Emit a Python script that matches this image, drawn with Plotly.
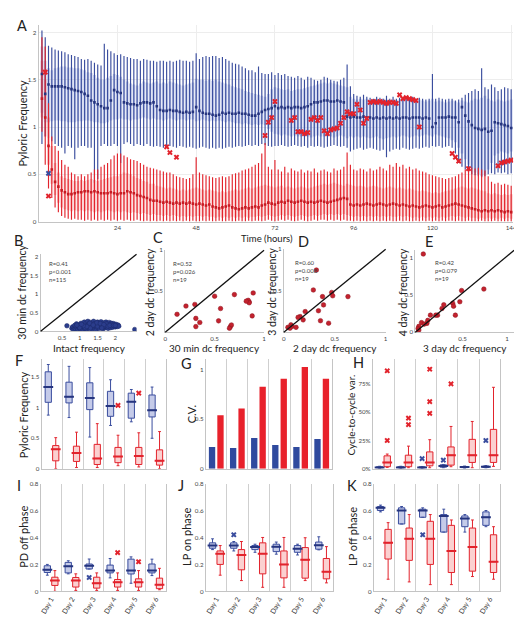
import plotly.graph_objects as go

W, H = 522, 617

# ---------------- Panel A data (hours 1..144) ----------------
hours = list(range(1, 145))

blue_hi = [
 2.02,1.95,1.86,1.84,1.82,1.81,1.80,1.79,1.77,1.76,1.75,1.74,
 1.72,1.71,1.72,1.70,1.68,1.66,1.65,1.88,1.82,1.80,1.78,1.76,
 1.77,1.75,1.74,1.73,1.72,1.72,1.70,1.72,1.71,1.70,1.70,1.69,
 1.70,1.70,1.69,1.70,1.69,1.70,1.71,1.70,1.70,1.69,1.70,1.78,
 1.72,1.74,1.75,1.74,1.75,1.75,1.73,1.74,1.72,1.70,1.68,1.67,
 1.66,1.64,1.62,1.60,1.60,1.58,1.64,1.57,1.56,1.56,1.58,1.55,
 1.57,1.55,1.56,1.54,1.53,1.52,1.54,1.52,1.50,1.53,1.52,1.50,
 1.49,1.50,1.53,1.52,1.50,1.49,1.48,1.50,1.52,1.66,1.43,1.35,
 1.33,1.32,1.34,1.32,1.31,1.30,1.32,1.31,1.30,1.33,1.30,1.32,
 1.30,1.31,1.30,1.31,1.30,1.32,1.30,1.31,1.30,1.29,1.30,1.56,
 1.30,1.31,1.30,1.29,1.30,1.30,1.28,1.29,1.31,1.34,1.36,1.38,
 1.40,1.38,1.62,1.42,1.40,1.45,1.42,1.38,1.40,1.42,1.41,1.40]
blue_q3 = [
 1.85,1.70,1.62,1.60,1.62,1.63,1.64,1.64,1.63,1.63,1.62,1.62,
 1.61,1.60,1.58,1.57,1.55,1.52,1.50,1.50,1.52,1.54,1.56,1.55,
 1.53,1.50,1.48,1.46,1.45,1.44,1.46,1.48,1.47,1.46,1.47,1.48,
 1.46,1.47,1.46,1.48,1.47,1.46,1.45,1.44,1.45,1.46,1.47,1.51,
 1.50,1.50,1.49,1.50,1.49,1.50,1.48,1.47,1.46,1.45,1.43,1.42,
 1.41,1.40,1.38,1.37,1.36,1.35,1.34,1.33,1.32,1.35,1.40,1.42,
 1.41,1.40,1.39,1.40,1.38,1.39,1.40,1.40,1.41,1.42,1.43,1.44,
 1.45,1.46,1.47,1.46,1.47,1.46,1.45,1.44,1.43,1.42,1.32,1.30,
 1.29,1.30,1.29,1.30,1.28,1.29,1.30,1.29,1.30,1.29,1.28,1.29,
 1.28,1.29,1.30,1.29,1.28,1.29,1.28,1.29,1.28,1.27,1.28,1.30,
 1.27,1.28,1.27,1.26,1.27,1.28,1.27,1.26,1.28,1.27,1.26,1.28,
 1.30,1.29,1.31,1.33,1.30,1.28,1.27,1.29,1.28,1.27,1.28,1.29]
blue_med = [
 1.56,1.35,1.45,1.43,1.43,1.43,1.43,1.42,1.41,1.40,1.39,1.38,
 1.37,1.35,1.33,1.28,1.26,1.24,1.22,1.20,1.20,1.28,1.39,1.37,
 1.36,1.26,1.25,1.24,1.24,1.23,1.25,1.26,1.26,1.25,1.26,1.22,
 1.18,1.17,1.17,1.18,1.17,1.17,1.16,1.15,1.16,1.15,1.16,1.21,
 1.17,1.15,1.14,1.14,1.13,1.12,1.13,1.15,1.14,1.15,1.14,1.14,
 1.15,1.14,1.14,1.13,1.12,1.12,1.14,1.16,1.18,1.19,1.20,1.22,
 1.20,1.21,1.20,1.21,1.20,1.21,1.21,1.20,1.21,1.22,1.24,1.26,
 1.26,1.27,1.28,1.28,1.27,1.27,1.28,1.27,1.26,1.11,1.10,1.11,
 1.10,1.10,1.11,1.10,1.10,1.09,1.10,1.09,1.10,1.09,1.10,1.09,
 1.10,1.09,1.10,1.10,1.09,1.10,1.10,1.10,1.09,1.10,1.09,1.00,
 1.04,1.10,1.10,1.10,1.11,1.10,1.10,1.05,1.21,1.12,1.06,1.02,
 0.99,0.98,0.97,0.98,0.95,0.96,1.05,1.04,1.03,1.02,1.01,0.99]
blue_q1 = [
 1.15,1.05,1.05,1.06,1.07,1.07,1.06,1.06,1.05,1.05,1.05,1.06,
 1.06,1.07,1.07,1.06,1.05,1.05,1.04,1.04,1.05,1.07,1.08,1.08,
 1.09,1.08,1.08,1.07,1.08,1.08,1.09,1.10,1.09,1.08,1.09,1.08,
 1.08,1.07,1.08,1.09,1.08,1.07,1.08,1.08,1.07,1.08,1.08,1.06,
 1.07,1.08,1.07,1.06,1.07,1.06,1.07,1.06,1.05,1.06,1.05,1.04,
 1.04,1.03,1.04,1.03,1.02,1.03,1.02,1.03,1.02,0.98,0.95,0.93,
 0.92,0.91,0.92,0.91,0.90,0.91,0.90,0.90,0.91,0.90,0.89,0.90,
 0.91,0.90,0.90,0.91,0.90,0.89,0.90,0.91,0.90,0.88,0.90,0.89,
 0.90,0.89,0.90,0.89,0.88,0.89,0.90,0.88,0.87,0.88,0.89,0.90,
 0.89,0.90,0.91,0.90,0.89,0.90,0.91,0.90,0.91,0.92,0.91,0.90,
 0.92,0.91,0.90,0.89,0.88,0.86,0.84,0.78,0.72,0.66,0.60,0.56,
 0.52,0.50,0.48,0.50,0.55,0.62,0.70,0.72,0.74,0.73,0.72,0.74]
blue_lo = [
 0.82,0.90,0.88,0.85,0.82,0.80,0.78,0.72,0.80,0.78,0.66,0.78,
 0.80,0.80,0.78,0.78,0.41,0.45,0.80,0.82,0.80,0.80,0.82,0.80,
 0.62,0.82,0.84,0.82,0.80,0.82,0.81,0.80,0.82,0.80,0.79,0.80,
 0.79,0.78,0.79,0.80,0.79,0.78,0.80,0.79,0.78,0.79,0.78,0.77,
 0.78,0.79,0.78,0.77,0.78,0.77,0.78,0.77,0.78,0.79,0.78,0.79,
 0.80,0.79,0.80,0.81,0.80,0.81,0.80,0.82,0.81,0.80,0.79,0.80,
 0.80,0.81,0.80,0.79,0.80,0.81,0.80,0.79,0.80,0.78,0.80,0.79,
 0.80,0.79,0.78,0.79,0.80,0.81,0.80,0.79,0.80,0.78,0.74,0.76,
 0.77,0.78,0.76,0.77,0.78,0.77,0.76,0.75,0.76,0.68,0.74,0.76,
 0.77,0.76,0.78,0.77,0.76,0.77,0.78,0.77,0.78,0.79,0.78,0.80,
 0.79,0.80,0.78,0.79,0.80,0.78,0.72,0.62,0.58,0.55,0.52,0.50,
 0.49,0.48,0.47,0.48,0.50,0.51,0.50,0.52,0.51,0.52,0.50,0.51]

red_hi = [
 1.95,1.85,1.25,0.90,0.80,0.75,0.65,0.60,0.58,0.52,0.50,0.48,
 0.50,0.48,0.50,0.52,0.55,0.55,0.58,0.60,0.62,0.66,0.70,0.72,
 0.72,0.70,0.68,0.66,0.65,0.64,0.62,0.60,0.58,0.57,0.56,0.55,
 0.54,0.53,0.52,0.52,0.50,0.48,0.47,0.46,0.45,0.46,0.50,0.68,
 0.52,0.50,0.49,0.48,0.47,0.46,0.47,0.48,0.47,0.48,0.50,0.51,
 0.52,0.54,0.55,0.56,0.58,0.60,0.62,0.72,0.83,0.58,0.55,0.65,
 0.55,0.53,0.58,0.52,0.56,0.54,0.53,0.55,0.52,0.54,0.53,0.56,
 0.52,0.54,0.55,0.53,0.52,0.56,0.54,0.55,0.58,0.73,0.60,0.55,
 0.54,0.56,0.55,0.53,0.56,0.54,0.55,0.58,0.56,0.54,0.60,0.58,
 0.62,0.58,0.60,0.56,0.58,0.55,0.56,0.54,0.53,0.52,0.50,0.49,
 0.48,0.47,0.46,0.45,0.46,0.47,0.48,0.50,0.52,0.55,0.56,0.57,
 0.56,0.57,0.55,0.54,0.48,0.42,0.40,0.41,0.39,0.40,0.39,0.38]
red_q3 = [
 1.70,1.50,1.10,0.80,0.62,0.52,0.48,0.46,0.45,0.44,0.43,0.43,
 0.44,0.43,0.44,0.45,0.44,0.43,0.44,0.45,0.46,0.47,0.48,0.48,
 0.50,0.52,0.51,0.50,0.48,0.46,0.45,0.43,0.42,0.40,0.40,0.38,
 0.37,0.36,0.35,0.36,0.35,0.34,0.33,0.34,0.33,0.34,0.35,0.36,
 0.35,0.34,0.33,0.34,0.33,0.32,0.31,0.32,0.31,0.32,0.33,0.34,
 0.33,0.34,0.35,0.36,0.35,0.36,0.37,0.38,0.39,0.38,0.37,0.36,
 0.37,0.38,0.36,0.37,0.36,0.35,0.36,0.37,0.36,0.35,0.36,0.37,
 0.38,0.39,0.40,0.39,0.40,0.41,0.40,0.39,0.38,0.40,0.39,0.38,
 0.37,0.38,0.37,0.36,0.37,0.38,0.37,0.36,0.35,0.36,0.37,0.36,
 0.35,0.36,0.35,0.34,0.35,0.34,0.33,0.32,0.33,0.32,0.31,0.30,
 0.31,0.30,0.31,0.32,0.33,0.34,0.35,0.36,0.37,0.36,0.35,0.36,
 0.35,0.34,0.33,0.32,0.30,0.29,0.30,0.29,0.28,0.29,0.28,0.29]
red_med = [
 1.30,1.10,0.80,0.55,0.42,0.37,0.33,0.31,0.29,0.29,0.30,0.31,
 0.31,0.32,0.32,0.31,0.32,0.31,0.30,0.30,0.30,0.31,0.30,0.29,
 0.30,0.30,0.32,0.31,0.30,0.28,0.27,0.26,0.25,0.23,0.22,0.22,
 0.21,0.20,0.21,0.20,0.19,0.20,0.19,0.20,0.19,0.20,0.19,0.18,
 0.19,0.18,0.17,0.18,0.16,0.15,0.14,0.15,0.16,0.17,0.15,0.14,
 0.13,0.14,0.15,0.14,0.15,0.16,0.15,0.17,0.18,0.20,0.19,0.18,
 0.20,0.21,0.20,0.22,0.21,0.20,0.21,0.22,0.21,0.20,0.21,0.20,
 0.21,0.22,0.21,0.20,0.21,0.22,0.23,0.24,0.25,0.24,0.18,0.17,
 0.18,0.17,0.18,0.19,0.18,0.17,0.18,0.19,0.18,0.17,0.18,0.19,
 0.18,0.17,0.18,0.17,0.16,0.17,0.16,0.15,0.16,0.17,0.16,0.15,
 0.16,0.17,0.15,0.16,0.17,0.18,0.19,0.18,0.17,0.16,0.15,0.14,
 0.13,0.12,0.11,0.12,0.11,0.12,0.11,0.12,0.11,0.10,0.11,0.10]
red_q1 = [
 1.10,0.90,0.60,0.40,0.28,0.20,0.15,0.13,0.12,0.11,0.12,0.11,
 0.12,0.11,0.12,0.11,0.10,0.11,0.10,0.11,0.12,0.11,0.10,0.11,
 0.10,0.11,0.10,0.09,0.10,0.09,0.08,0.09,0.08,0.07,0.08,0.07,
 0.07,0.06,0.07,0.06,0.07,0.06,0.05,0.06,0.05,0.06,0.05,0.06,
 0.06,0.05,0.06,0.05,0.05,0.04,0.05,0.04,0.05,0.04,0.05,0.04,
 0.05,0.04,0.05,0.04,0.05,0.05,0.06,0.05,0.06,0.07,0.06,0.05,
 0.06,0.07,0.06,0.07,0.06,0.05,0.06,0.07,0.06,0.05,0.06,0.07,
 0.06,0.07,0.08,0.07,0.08,0.07,0.08,0.07,0.08,0.07,0.06,0.05,
 0.06,0.05,0.06,0.05,0.06,0.05,0.06,0.05,0.06,0.05,0.06,0.05,
 0.05,0.06,0.05,0.06,0.05,0.04,0.05,0.04,0.05,0.04,0.05,0.04,
 0.05,0.04,0.05,0.04,0.05,0.06,0.05,0.06,0.05,0.04,0.05,0.04,
 0.04,0.03,0.04,0.03,0.04,0.03,0.04,0.03,0.04,0.03,0.04,0.03]
red_lo = [
 0.95,0.60,0.35,0.25,0.15,0.10,0.06,0.04,0.03,0.02,0.03,0.02,
 0.02,0.01,0.02,0.01,0.02,0.01,0.02,0.01,0.02,0.01,0.02,0.01,
 0.02,0.01,0.02,0.01,0.01,0.02,0.01,0.00,0.01,0.00,0.01,0.00,
 0.01,0.00,0.01,0.00,0.01,0.00,0.01,0.00,0.01,0.00,0.01,0.00,
 0.00,0.01,0.00,0.01,0.00,0.00,0.01,0.00,0.00,0.01,0.00,0.00,
 0.01,0.00,0.00,0.01,0.00,0.01,0.01,0.00,0.01,0.02,0.01,0.00,
 0.01,0.02,0.01,0.02,0.01,0.00,0.01,0.02,0.01,0.00,0.01,0.02,
 0.01,0.02,0.02,0.01,0.02,0.01,0.02,0.01,0.02,0.01,0.01,0.00,
 0.01,0.00,0.01,0.00,0.01,0.00,0.01,0.00,0.01,0.00,0.01,0.00,
 0.00,0.01,0.00,0.01,0.00,0.00,0.01,0.00,0.01,0.00,0.01,0.00,
 0.01,0.00,0.01,0.00,0.01,0.01,0.00,0.01,0.00,0.00,0.01,0.00,
 0.00,0.00,0.01,0.00,0.00,0.00,0.01,0.00,0.00,0.00,0.00,0.00]

red_out_h = [2, 3, 39, 40, 42, 69, 70, 71, 72, 77, 78, 79, 80, 81, 82, 83, 84, 85, 86,
             87, 88, 89, 90, 91, 92, 93, 94, 95, 96, 97, 98, 99, 100,
             101, 102, 103, 104, 105, 106, 107, 108, 109, 110,
             111, 112, 113, 114, 115, 116, 126, 127, 128, 131, 140, 141, 142, 143, 144]
red_out_v = [1.58, 0.27, 0.79, 0.73, 0.68, 0.91, 1.05, 1.10, 1.27, 1.07, 1.10, 0.95, 0.95, 0.93, 0.94,
             1.08, 1.10, 1.07, 1.10, 0.96, 0.93, 0.97, 0.98, 0.99, 1.04, 1.10, 1.16, 1.14, 1.14,
             1.24, 1.18, 1.04, 1.09, 1.26, 1.27, 1.26, 1.27, 1.26, 1.25, 1.26, 1.26, 1.25, 1.34,
             1.30, 1.31, 1.30, 1.29, 1.28, 1.00, 0.72, 0.68, 0.64, 0.56, 0.59, 0.62, 0.63, 0.64, 0.65]
blue_out_h = [3]
blue_out_v = [0.51]

# ---------------- Panels B-E scatter data ----------------
B_x = [0.64,0.78,0.80,0.83,0.85,0.86,0.88,0.90,0.91,0.93,0.95,0.96,0.98,1.00,1.01,1.03,1.04,1.06,1.07,1.09,
       1.10,1.12,1.13,1.14,1.16,1.17,1.19,1.20,1.21,1.23,1.24,1.26,1.27,1.29,1.30,1.32,1.33,1.35,1.36,1.38,
       1.39,1.41,1.42,1.44,1.45,1.47,1.48,1.50,1.51,1.53,1.54,1.56,1.57,1.59,1.60,1.62,1.63,1.65,1.66,1.68,
       1.69,1.71,1.72,1.74,1.75,1.77,1.78,1.80,1.81,1.83,1.84,1.86,1.87,1.89,1.90,1.92,1.93,1.95,1.97,1.98,
       2.00,2.02,2.04,2.06,2.08,2.10,2.55,1.15,1.25,1.35,1.45,1.55,1.65,1.75,1.30,1.40,1.50,1.60,1.20,1.10,
       1.00,0.92,1.70,1.80,1.90,1.85,1.95,2.00,1.05,1.28,1.48,1.58,1.68,1.38,1.62]
B_y = [0.15,0.08,0.12,0.05,0.10,0.16,0.07,0.13,0.20,0.09,0.05,0.15,0.11,0.18,0.07,0.13,0.22,0.09,0.16,0.05,
       0.12,0.19,0.25,0.08,0.14,0.21,0.10,0.06,0.17,0.27,0.12,0.20,0.08,0.15,0.24,0.11,0.18,0.06,0.22,0.13,
       0.27,0.09,0.17,0.21,0.12,0.05,0.19,0.25,0.10,0.15,0.22,0.08,0.18,0.13,0.26,0.11,0.20,0.16,0.07,0.23,
       0.14,0.19,0.10,0.25,0.16,0.12,0.21,0.08,0.17,0.24,0.13,0.19,0.10,0.22,0.15,0.18,0.11,0.21,0.14,0.17,
       0.12,0.19,0.15,0.13,0.17,0.14,0.05,0.10,0.15,0.14,0.16,0.17,0.12,0.20,0.09,0.20,0.14,0.18,0.13,0.15,
       0.10,0.17,0.15,0.14,0.19,0.16,0.16,0.16,0.19,0.22,0.23,0.21,0.18,0.17,0.09]

C_x = [0.12,0.21,0.30,0.31,0.35,0.31,0.50,0.56,0.54,0.70,0.66,0.67,0.65,0.85,0.84,0.89,0.88,0.85,0.82]
C_y = [0.22,0.32,0.34,0.17,0.12,0.07,0.44,0.29,0.14,0.46,0.07,0.09,0.05,0.37,0.39,0.48,0.20,0.36,0.38]

D_x = [0.32,0.29,0.47,0.48,0.38,0.63,0.39,0.34,0.21,0.16,0.14,0.19,0.36,0.44,0.07,0.08,0.04,0.12,0.06]
D_y = [0.75,0.51,0.48,0.44,0.43,0.43,0.33,0.26,0.25,0.19,0.18,0.15,0.14,0.11,0.09,0.07,0.06,0.06,0.05]

E_x = [0.06,0.74,0.49,0.47,0.39,0.40,0.29,0.42,0.22,0.20,0.14,0.11,0.10,0.04,0.01,0.00,0.01,0.07,0.27]
E_y = [1.05,0.58,0.56,0.41,0.39,0.35,0.37,0.23,0.23,0.23,0.23,0.16,0.12,0.13,0.08,0.05,0.03,0.11,0.32]

stats_text = {"B": "R=0.41<br>p<0.001<br>n=115", "C": "R=0.52<br>p=0.026<br>n=19",
              "D": "R=0.60<br>p=0.008<br>n=19", "E": "R=0.42<br>p=0.079<br>n=19"}

# ---------------- Panels F-K (per day) ----------------
days = [1, 2, 3, 4, 5, 6]
day_labels = ["Day 1", "Day 2", "Day 3", "Day 4", "Day 5", "Day 6"]

F_blue = dict(lo=[0.88,0.84,0.52,0.71,0.77,0.50], q1=[1.09,1.08,0.97,0.86,0.83,0.85],
              med=[1.34,1.18,1.16,1.03,1.10,0.96], q3=[1.59,1.42,1.41,1.27,1.24,1.21],
              hi=[1.71,1.68,1.66,1.46,1.30,1.34])
F_red = dict(lo=[0.00,0.02,0.02,0.05,0.03,0.00], q1=[0.13,0.12,0.07,0.10,0.07,0.06],
             med=[0.32,0.26,0.17,0.20,0.21,0.13], q3=[0.38,0.37,0.40,0.35,0.35,0.31],
             hi=[0.51,0.60,0.74,0.55,0.59,0.61])
F_red_out_day = [4, 5]
F_red_out = [1.04, 1.24]

G_blue = [0.22, 0.21, 0.31, 0.24, 0.22, 0.30]
G_red = [0.54, 0.61, 0.83, 0.91, 1.03, 0.91]

H_blue = dict(lo=[0.005,0.005,0.005,0.009,0.006,0.008], q1=[0.008,0.008,0.008,0.014,0.010,0.012],
              med=[0.012,0.012,0.012,0.025,0.015,0.018], q3=[0.018,0.018,0.017,0.035,0.020,0.024],
              hi=[0.022,0.022,0.020,0.038,0.024,0.028])
H_red = dict(lo=[0.012,0.009,0.009,0.018,0.009,0.021], q1=[0.018,0.018,0.026,0.032,0.056,0.056],
             med=[0.056,0.056,0.056,0.120,0.120,0.120], q3=[0.114,0.120,0.149,0.193,0.260,0.348],
             hi=[0.130,0.200,0.257,0.374,0.418,0.720])
H_blue_out_day = [3, 4, 6]
H_blue_out = [0.09, 0.076, 0.25]
H_red_out_day = [1, 1, 2, 2, 3, 3, 3, 4]
H_red_out = [0.866, 0.25, 0.447, 0.39, 0.88, 0.593, 0.49, 0.75]

I_blue = dict(lo=[0.12,0.13,0.166,0.10,0.06,0.117], q1=[0.14,0.137,0.166,0.137,0.129,0.137],
              med=[0.16,0.186,0.19,0.154,0.154,0.154], q3=[0.19,0.215,0.203,0.195,0.239,0.203],
              hi=[0.20,0.227,0.24,0.244,0.256,0.239])
I_red = dict(lo=[0.0,0.007,0.007,0.007,0.007,0.012], q1=[0.044,0.032,0.024,0.032,0.032,0.02],
             med=[0.081,0.081,0.061,0.068,0.068,0.049], q3=[0.105,0.103,0.105,0.088,0.093,0.098],
             hi=[0.154,0.13,0.137,0.137,0.154,0.171])
I_blue_out_day = [3]
I_blue_out = [0.103]
I_red_out_day = [4, 5]
I_red_out = [0.288, 0.22]

J_blue = dict(lo=[0.31,0.30,0.29,0.276,0.27,0.308], q1=[0.32,0.32,0.31,0.295,0.29,0.313],
              med=[0.34,0.34,0.33,0.332,0.317,0.342], q3=[0.36,0.36,0.34,0.35,0.34,0.366],
              hi=[0.39,0.37,0.35,0.366,0.35,0.405])
J_red = dict(lo=[0.12,0.08,0.03,0.03,0.08,0.063], q1=[0.20,0.16,0.13,0.10,0.098,0.093],
             med=[0.28,0.27,0.28,0.20,0.234,0.146], q3=[0.30,0.31,0.36,0.30,0.325,0.244],
             hi=[0.34,0.37,0.40,0.40,0.398,0.332])
J_blue_out_day = [2]
J_blue_out = [0.42]

K_blue = dict(lo=[0.59,0.50,0.55,0.44,0.44,0.48], q1=[0.60,0.50,0.55,0.44,0.48,0.49],
              med=[0.62,0.60,0.60,0.56,0.54,0.55], q3=[0.63,0.62,0.61,0.57,0.56,0.59],
              hi=[0.64,0.63,0.62,0.61,0.57,0.60])
K_red = dict(lo=[0.09,0.07,0.05,0.05,0.11,0.09], q1=[0.24,0.23,0.20,0.14,0.15,0.14],
             med=[0.36,0.39,0.39,0.30,0.33,0.22], q3=[0.46,0.47,0.52,0.49,0.47,0.42],
             hi=[0.51,0.57,0.57,0.53,0.53,0.48])
K_blue_out_day = [3]
K_blue_out = [0.42]

# ---------------- styling ----------------
FONT = "Lato"
BLUE = "#3a4d9e"
BLUE_DARK = "#25347f"
BLUE_FILL = "rgba(120,138,210,0.42)"
RED = "#e2232c"
RED_DARK = "#c81a22"
RED_FILL = "rgba(242,110,110,0.42)"
AXC = "#c4c4c4"
TICKC = "#444444"

def dx(a, b):
    return [a / W, b / W]

def dy(top, bottom):
    return [1 - bottom / H, 1 - top / H]

fig = go.Figure()

# ---------- Panel A ----------
fig.add_trace(go.Bar(x=hours, y=[t - b for t, b in zip(blue_q3, blue_q1)], base=blue_q1,
                     width=0.82, marker=dict(color=BLUE_FILL, line=dict(width=0)),
                     xaxis="x", yaxis="y", showlegend=False, hoverinfo="skip"))
wx, wy = [], []
for h, lo, hi in zip(hours, blue_lo, blue_hi):
    wx += [h, h, None]
    wy += [lo, hi, None]
fig.add_trace(go.Scatter(x=wx, y=wy, mode="lines", line=dict(color=BLUE, width=1.15),
                         xaxis="x", yaxis="y", showlegend=False, hoverinfo="skip"))
fig.add_trace(go.Bar(x=hours, y=[t - b for t, b in zip(red_q3, red_q1)], base=red_q1,
                     width=0.82, marker=dict(color=RED_FILL, line=dict(width=0)),
                     xaxis="x", yaxis="y", showlegend=False, hoverinfo="skip"))
wx, wy = [], []
for h, lo, hi in zip(hours, red_lo, red_hi):
    wx += [h, h, None]
    wy += [lo, hi, None]
fig.add_trace(go.Scatter(x=wx, y=wy, mode="lines", line=dict(color=RED, width=1.15),
                         xaxis="x", yaxis="y", showlegend=False, hoverinfo="skip"))
fig.add_trace(go.Scatter(x=hours, y=blue_med, mode="markers",
                         marker=dict(symbol="square", size=2.6, color=BLUE_DARK),
                         xaxis="x", yaxis="y", showlegend=False, hoverinfo="skip"))
fig.add_trace(go.Scatter(x=hours, y=red_med, mode="markers",
                         marker=dict(symbol="square", size=2.6, color=RED_DARK),
                         xaxis="x", yaxis="y", showlegend=False, hoverinfo="skip"))
fig.add_trace(go.Scatter(x=red_out_h, y=red_out_v, mode="markers",
                         marker=dict(symbol="x", size=5, color=RED),
                         xaxis="x", yaxis="y", showlegend=False, hoverinfo="skip"))
fig.add_trace(go.Scatter(x=blue_out_h, y=blue_out_v, mode="markers",
                         marker=dict(symbol="x", size=5, color=BLUE),
                         xaxis="x", yaxis="y", showlegend=False, hoverinfo="skip"))

# ---------- Panels B-E ----------
sc_specs = [("2", B_x, B_y, "#2b3d8c", "#1c2a6a"), ("3", C_x, C_y, "#c3222e", "#8f1620"),
            ("4", D_x, D_y, "#c3222e", "#8f1620"), ("5", E_x, E_y, "#c3222e", "#8f1620")]
for ax_id, xs, ys, col, lcol in sc_specs:
    fig.add_trace(go.Scatter(x=xs, y=ys, mode="markers",
                             marker=dict(size=4.6, color=col, line=dict(color=lcol, width=0.5)),
                             xaxis="x" + ax_id, yaxis="y" + ax_id, showlegend=False, hoverinfo="skip"))

# ---------- Box panels ----------
OFF_B, OFF_R, BW = -0.18, 0.18, 0.3

def add_boxes(ax_id, st, offset, line_col, fill_col, med_col):
    pos = [d + offset for d in days]
    fig.add_trace(go.Box(x=pos, q1=st["q1"], median=st["med"], q3=st["q3"],
                         lowerfence=st["lo"], upperfence=st["hi"], width=BW,
                         fillcolor=fill_col, line=dict(color=line_col, width=1),
                         whiskerwidth=0.45, boxpoints=False,
                         xaxis="x" + ax_id, yaxis="y" + ax_id, showlegend=False, hoverinfo="skip"))
    fig.add_trace(go.Scatter(x=pos, y=st["med"], mode="markers",
                             marker=dict(symbol="line-ew", size=7,
                                         line=dict(color=med_col, width=2)),
                             xaxis="x" + ax_id, yaxis="y" + ax_id, showlegend=False, hoverinfo="skip"))

def add_out(ax_id, dlist, vals, offset, col):
    fig.add_trace(go.Scatter(x=[d + offset for d in dlist], y=vals, mode="markers",
                             marker=dict(symbol="x", size=5, color=col),
                             xaxis="x" + ax_id, yaxis="y" + ax_id, showlegend=False, hoverinfo="skip"))

BOX_BLUE_FILL = "rgba(150,160,215,0.55)"
BOX_RED_FILL = "rgba(248,170,170,0.55)"
for ax_id, bst, rst in [("6", F_blue, F_red), ("8", H_blue, H_red), ("9", I_blue, I_red),
                        ("10", J_blue, J_red), ("11", K_blue, K_red)]:
    add_boxes(ax_id, bst, OFF_B, BLUE, BOX_BLUE_FILL, BLUE_DARK)
    add_boxes(ax_id, rst, OFF_R, RED, BOX_RED_FILL, RED)

add_out("6", F_red_out_day, F_red_out, OFF_R, RED)
add_out("8", H_blue_out_day, H_blue_out, OFF_B, BLUE)
add_out("8", H_red_out_day, H_red_out, OFF_R, RED)
add_out("9", I_blue_out_day, I_blue_out, OFF_B, BLUE)
add_out("9", I_red_out_day, I_red_out, OFF_R, RED)
add_out("10", J_blue_out_day, J_blue_out, OFF_B, BLUE)
add_out("11", K_blue_out_day, K_blue_out, OFF_B, BLUE)

# ---------- Panel G bars ----------
fig.add_trace(go.Bar(x=[d - 0.2 for d in days], y=G_blue, width=0.3,
                     marker=dict(color="#2f4a9e", line=dict(width=0)),
                     xaxis="x7", yaxis="y7", showlegend=False, hoverinfo="skip"))
fig.add_trace(go.Bar(x=[d + 0.2 for d in days], y=G_red, width=0.3,
                     marker=dict(color="#e8212b", line=dict(width=0)),
                     xaxis="x7", yaxis="y7", showlegend=False, hoverinfo="skip"))

# ---------- axes ----------
tickfont = dict(family=FONT, size=6.2, color=TICKC)
layout_axes = {}

def set_axes(n, xd, yd, xr, yr, xt=None, xtt=None, yt=None, ytt=None, grid=False):
    xk = "xaxis" if n == 1 else f"xaxis{n}"
    yk = "yaxis" if n == 1 else f"yaxis{n}"
    yname = "y" if n == 1 else f"y{n}"
    xname = "x" if n == 1 else f"x{n}"
    layout_axes[xk] = dict(domain=xd, range=xr, anchor=yname, showline=True, linecolor=AXC,
                           linewidth=1, ticks="", zeroline=False, showgrid=grid,
                           gridcolor="#ededed", tickfont=tickfont, fixedrange=True,
                           tickvals=xt if xt is not None else [], ticktext=xtt)
    layout_axes[yk] = dict(domain=yd, range=yr, anchor=xname, showline=True, linecolor=AXC,
                           linewidth=1, ticks="", zeroline=False, showgrid=grid,
                           gridcolor="#ededed", tickfont=tickfont, fixedrange=True,
                           tickvals=yt if yt is not None else [], ticktext=ytt)

set_axes(1, dx(29, 509), dy(13, 212), [0, 144.6], [0, 2.08],
         xt=[24, 48, 72, 96, 120, 144], yt=[0, 0.5, 1, 1.5, 2],
         ytt=["0", "0.5", "1", "1.5", "2"], grid=True)
set_axes(2, dx(31, 128), dy(245, 323), [-0.1, 2.6], [0, 2.08],
         xt=[0.5, 1, 1.5, 2], xtt=["0.5", "1", "1.5", "2"],
         yt=[0, 0.5, 1, 1.5, 2], ytt=["0", "0.5", "1", "1.5", "2"])
set_axes(3, dx(157, 257), dy(241, 324), [0, 1], [0, 1],
         xt=[0, 0.5, 1], xtt=["0", "0.5", "1"], yt=[0.5, 1], ytt=["0.5", "1"])
set_axes(4, dx(277, 380), dy(240, 324), [0, 1], [0, 1],
         xt=[0, 0.5, 1], xtt=["0", "0.5", "1"], yt=[0.5, 1], ytt=["0.5", "1"])
set_axes(5, dx(410, 510), dy(241, 324), [-0.03, 1.08], [0, 1.1],
         xt=[0.5, 1], xtt=["0.5", "1"], yt=[0, 0.5, 1], ytt=["0", "0.5", "1"])

set_axes(6, dx(32, 158), dy(351, 462), [0.5, 6.5], [0, 1.8],
         xt=[], yt=[0, 0.5, 1, 1.5], ytt=["0", "0.5", "1", "1.5"])
set_axes(7, dx(198, 326), dy(351, 462), [0.5, 6.5], [0, 1.11],
         xt=[], yt=[0, 0.5, 1], ytt=["0", "0.5", "1"])
set_axes(8, dx(367, 496), dy(351, 462), [0.5, 6.5], [0, 0.97],
         xt=[], yt=[0, 0.25, 0.5, 0.75], ytt=["0%", "25%", "50%", "75%"])
for n, x0, x1 in [(9, 31, 158), (10, 198, 327), (11, 368, 496)]:
    set_axes(n, dx(x0, x1), dy(477, 586), [0.5, 6.5], [0, 0.8],
             xt=days, xtt=day_labels, yt=[0, 0.2, 0.4, 0.6, 0.8],
             ytt=["0", "0.2", "0.4", "0.6", "0.8"])

for n in range(6, 12):
    xk, yk = f"xaxis{n}", f"yaxis{n}"
    layout_axes[xk]["minor"] = dict(tickvals=[1.5, 2.5, 3.5, 4.5, 5.5], showgrid=True,
                                    gridcolor="#cfcfcf", gridwidth=1, ticks="")
    layout_axes[yk]["mirror"] = True
for n in (9, 10, 11):
    layout_axes[f"xaxis{n}"]["tickangle"] = -60
    layout_axes[f"xaxis{n}"]["tickfont"] = dict(family=FONT, size=7, color="#333")

# ---------- annotations ----------
ann = []

def txt(x, y, s, size=10, angle=0, xanchor="center", yanchor="middle", color="#222", align="center"):
    ann.append(dict(x=x / W, y=1 - y / H, xref="paper", yref="paper", text=s, showarrow=False,
                    font=dict(family=FONT, size=size, color=color), textangle=angle,
                    xanchor=xanchor, yanchor=yanchor, align=align))

for lab, x, y in [("A", 12, 14), ("B", 9, 231), ("C", 150, 228), ("D", 297, 232), ("E", 424, 232),
                  ("F", 9, 353), ("G", 179, 356), ("H", 353, 355),
                  ("I", 9, 479), ("J", 173, 479), ("K", 346, 479)]:
    txt(x, y, lab, size=14.5)

txt(13, 112, "Pyloric Frequency", size=11, angle=-90)
txt(260, 229, "Time (hours)", size=9.5)

txt(12, 283, "30 min dc frequency", size=10.5, angle=-90)
txt(141, 283, "2 day dc frequency", size=10.5, angle=-90)
txt(265, 283, "3 day dc frequency", size=10.5, angle=-90)
txt(397, 283, "4 day dc frequency", size=10.5, angle=-90)
txt(80, 340, "Intact frequency", size=10)
txt(207, 340, "30 min dc frequency", size=10)
txt(329, 340, "2 day dc frequency", size=10)
txt(460, 340, "3 day dc frequency", size=10)

for key, x, y in [("B", 37, 249), ("C", 163, 249), ("D", 286, 248), ("E", 428, 248)]:
    txt(x, y, stats_text[key], size=6, xanchor="left", yanchor="top", color="#444", align="left")

txt(14, 407, "Pyloric Frequency", size=11, angle=-90)
txt(183, 407, "C.V.", size=11, angle=-90)
txt(345, 408, "Cycle-to-cycle var.", size=10, angle=-90)
txt(14, 531, "PD off phase", size=11, angle=-90)
txt(179, 531, "LP on phase", size=11, angle=-90)
txt(347, 531, "LP off phase", size=11, angle=-90)

shapes = []
for n in (2, 3, 4, 5):
    shapes.append(dict(type="line", xref=f"x{n} domain", yref=f"y{n} domain",
                       x0=0, y0=0, x1=1, y1=1, line=dict(color="#111", width=1.3)))

fig.update_layout(width=W, height=H, margin=dict(l=0, r=0, t=0, b=0),
                  paper_bgcolor="white", plot_bgcolor="white",
                  barmode="overlay", boxmode="overlay", showlegend=False,
                  font=dict(family=FONT), annotations=ann, shapes=shapes, **layout_axes)

fig.write_html("out.html")
